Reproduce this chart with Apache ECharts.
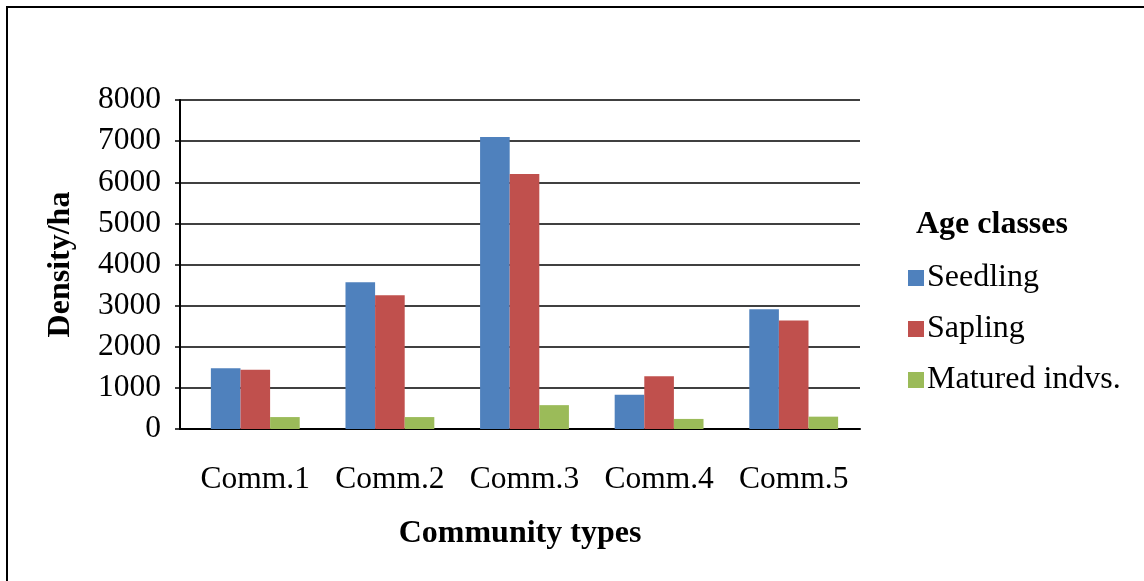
<!DOCTYPE html>
<html>
<head>
<meta charset="utf-8">
<script src="https://cdn.jsdelivr.net/npm/echarts@6/dist/echarts.min.js"></script>
<style>
  html, body { margin: 0; padding: 0; background: #fff; }
  #chart { width: 1144px; height: 581px; }
</style>
</head>
<body>
<div id="chart"></div>
<script>
// Density of each age class per community type
const categories = ['Comm.1', 'Comm.2', 'Comm.3', 'Comm.4', 'Comm.5'];
const seedling = [1480, 3570, 7100, 835, 2910];
const sapling = [1440, 3250, 6200, 1280, 2640];
const matured = [290, 290, 580, 245, 300];
const seriesNames = ['Seedling', 'Sapling', 'Matured indvs.'];
const yTicks = { min: 0, max: 8000, interval: 1000 };

const FONT = '"Liberation Serif", "Times New Roman", serif';
const colors = ['#4F81BD', '#C0504D', '#9BBB59'];

const chart = echarts.init(document.getElementById('chart'), null, { renderer: 'canvas' });

// grid 0 carries the frame of the plot (axis lines, gridlines, ticks);
// grid 1 carries the bars, with the categories inset slightly from the value axis
const barSeries = [seedling, sapling, matured].map((vals, i) => ({
  name: seriesNames[i],
  type: 'bar',
  xAxisIndex: 1,
  yAxisIndex: 1,
  data: vals,
  barGap: '0%',
  barCategoryGap: '34%',
  itemStyle: { color: colors[i] }
}));

chart.setOption({
  backgroundColor: '#fff',
  animation: false,
  color: colors,
  grid: [
    { left: 180, right: 284, top: 100, bottom: 152, containLabel: false },
    { left: 188, right: 283, top: 100, bottom: 152, containLabel: false }
  ],
  title: {
    text: 'Age classes',
    left: 911,
    top: 204,
    textStyle: { fontFamily: FONT, fontSize: 32, fontWeight: 'bold', color: '#000' }
  },
  legend: {
    orient: 'vertical',
    left: 903,
    top: 257,
    itemWidth: 16,
    itemHeight: 16,
    itemGap: 19,
    icon: 'rect',
    data: seriesNames,
    textStyle: { fontFamily: FONT, fontSize: 32, color: '#000', padding: [0, 0, 0, -2] }
  },
  xAxis: [{
    type: 'category',
    gridIndex: 0,
    data: categories,
    name: 'Community types',
    nameLocation: 'middle',
    nameGap: 89,
    nameTextStyle: { fontFamily: FONT, fontSize: 32, fontWeight: 'bold', color: '#000' },
    axisLine: { lineStyle: { color: '#000', width: 2 } },
    axisTick: { show: false },
    axisLabel: { show: false }
  }, {
    type: 'category',
    gridIndex: 1,
    data: categories,
    axisLine: { show: false },
    axisTick: { show: false },
    axisLabel: { interval: 0, fontFamily: FONT, fontSize: 31.5, color: '#000', margin: 35 }
  }],
  yAxis: [{
    type: 'value',
    gridIndex: 0,
    min: yTicks.min,
    max: yTicks.max,
    interval: yTicks.interval,
    name: 'Density/ha',
    nameLocation: 'middle',
    nameGap: 103,
    nameTextStyle: { fontFamily: FONT, fontSize: 32, fontWeight: 'bold', color: '#000' },
    axisLine: { show: true, lineStyle: { color: '#000', width: 2 } },
    axisTick: { show: true, length: 5, lineStyle: { color: '#000', width: 1.5 } },
    axisLabel: { fontFamily: FONT, fontSize: 31.5, color: '#000', margin: 19, formatter: v => String(v) },
    splitLine: { lineStyle: { color: '#000', width: 1.5 } }
  }, {
    type: 'value',
    gridIndex: 1,
    min: yTicks.min,
    max: yTicks.max,
    interval: yTicks.interval,
    show: false,
    splitLine: { show: false }
  }],
  graphic: [{
    type: 'rect',
    shape: { x: 7, y: 7, width: 1160, height: 600 },
    style: { fill: 'none', stroke: '#000', lineWidth: 2 },
    silent: true
  }],
  series: barSeries
});
</script>
</body>
</html>
